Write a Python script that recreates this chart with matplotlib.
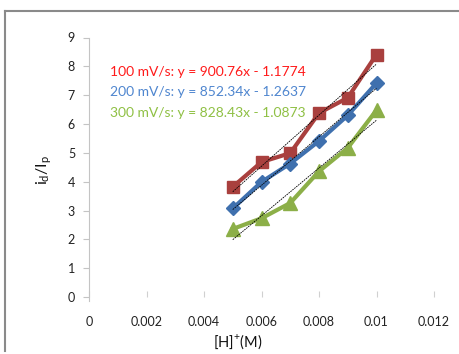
import matplotlib
matplotlib.use("Agg")
import matplotlib.pyplot as plt
import numpy as np
from matplotlib.lines import Line2D

plt.rcParams["font.family"] = ["Lato", "DejaVu Sans"]

# [H]+ concentration (M)
conc = [0.005, 0.006, 0.007, 0.008, 0.009, 0.010]

# id/Ip at each scan rate
ratio_100 = [3.82, 4.68, 4.99, 6.38, 6.91, 8.41]
ratio_200 = [3.07, 3.99, 4.63, 5.41, 6.30, 7.42]
ratio_300 = [2.36, 2.73, 3.26, 4.36, 5.17, 6.48]

labels = [
    "100 mV/s: y = 900.76x - 1.1774",
    "200 mV/s: y = 852.34x - 1.2637",
    "300 mV/s: y = 828.43x - 1.0873",
]

x_ticks = [0, 0.002, 0.004, 0.006, 0.008, 0.010, 0.012]
x_tick_labels = ["0", "0.002", "0.004", "0.006", "0.008", "0.01", "0.012"]
y_ticks = list(range(0, 10))

W, H = 459, 354
fig = plt.figure(figsize=(W / 100, H / 100), dpi=100)
ax = fig.add_axes([89 / W, 1 - 297 / H, (434 - 89) / W, (297 - 37.5) / H])

series = [
    (ratio_100, "s", 9, "#a9403e", "#ff1a1a"),
    (ratio_200, "D", 7.5, "#3f70ae", "#4f86cf"),
    (ratio_300, "^", 10, "#8caf48", "#8fc044"),
]

x = np.array(conc)
for ys, marker, ms, color, _ in series:
    ax.plot(conc, ys, color=color, lw=3, marker=marker, ms=ms,
            markeredgecolor=color, zorder=3)

# linear trendlines over the data range
for ys, *_ in series:
    slope, icpt = np.polyfit(x, ys, 1)
    ax.plot(x, slope * x + icpt, color="black", lw=0.6,
            linestyle=(0, (2, 1)), zorder=4)

for i, (lab, s) in enumerate(zip(labels, series)):
    fig.text(110 / W, 1 - (72 + 20.5 * i) / H, lab, color=s[4],
             fontsize=10, ha="left", va="center")

ax.set_xlim(0, 0.012)
ax.set_ylim(0, 9)
ax.set_xticks(x_ticks, x_tick_labels)
ax.set_yticks(y_ticks)

for side in ["top", "right", "bottom"]:
    ax.spines[side].set_visible(False)
ax.spines["left"].set_color("#c4c4c4")
ax.spines["left"].set_bounds(-0.15, 9)

ax.tick_params(axis="y", length=4, width=0.8, color="#c4c4c4",
               labelsize=9, labelcolor="#222222", pad=6)
ax.tick_params(axis="x", length=4, width=0.8, color="#d0d0d0",
               direction="in", labelsize=9, labelcolor="#222222", pad=14)

fig.text(238 / W, 1 - 342 / H, "[H]$^\\mathregular{+}$(M)", fontsize=10.5,
         ha="center", va="center", color="#111111")
fig.text(44 / W, 1 - 170 / H, "i$_\\mathregular{d}$/I$_\\mathregular{p}$",
         fontsize=11.5, rotation=90, ha="center", va="center", color="#111111")

# chart frame
fig.add_artist(Line2D([5 / W, 1.0], [1 - 11 / H, 1 - 11 / H],
                      color="#8a8a8a", lw=1.5, transform=fig.transFigure))
fig.add_artist(Line2D([5 / W, 5 / W], [1 - 11 / H, 1 - 351 / H],
                      color="#8a8a8a", lw=1.5, transform=fig.transFigure))

fig.savefig("out.png", dpi=100)
